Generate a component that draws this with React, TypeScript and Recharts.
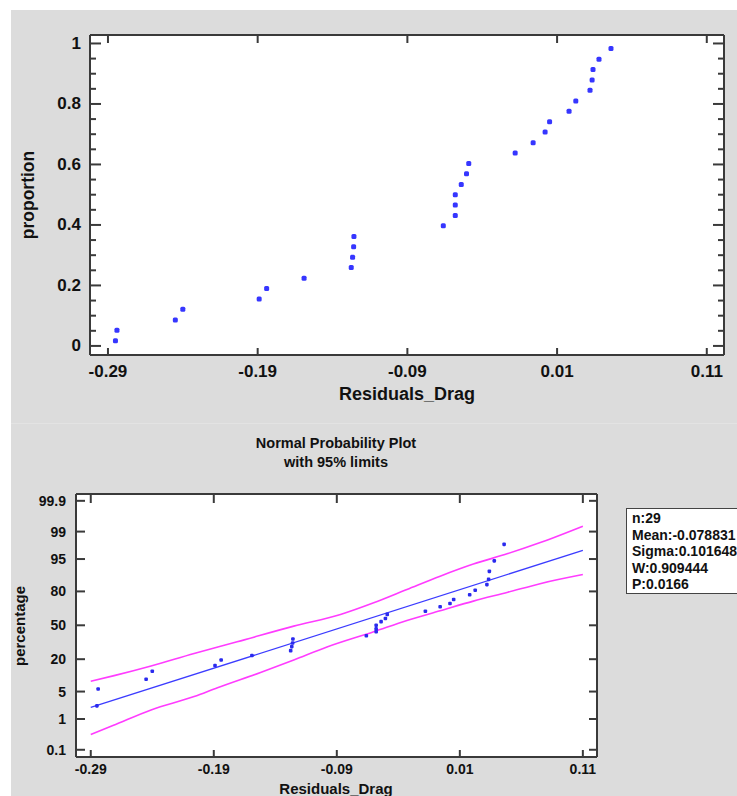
import React from 'react';
import { ComposedChart, Scatter, Line, XAxis, YAxis, CartesianGrid } from 'recharts';

// residuals (same for both panels)
const residuals = [
  -0.285, -0.284, -0.245, -0.24, -0.189, -0.184, -0.159, -0.1275, -0.1266, -0.1259,
  -0.1257, -0.066, -0.058, -0.058, -0.058, -0.054, -0.0505, -0.049, -0.018, -0.006,
  0.002, 0.005, 0.018, 0.0225, 0.032, 0.0334, 0.034, 0.038, 0.046,
];
const proportions = [
  0.017, 0.052, 0.086, 0.121, 0.155, 0.19, 0.224, 0.259, 0.293, 0.328,
  0.362, 0.397, 0.431, 0.466, 0.5, 0.534, 0.569, 0.603, 0.638, 0.672,
  0.707, 0.741, 0.776, 0.81, 0.845, 0.879, 0.914, 0.948, 0.983,
];
// normal scores (probability-axis positions) of the same points
const normalScores = [
  -2.0, -1.58, -1.34, -1.14, -1.0, -0.86, -0.75, -0.63, -0.53, -0.44,
  -0.34, -0.26, -0.16, -0.09, 0.0, 0.09, 0.17, 0.27, 0.35, 0.46,
  0.54, 0.64, 0.76, 0.87, 1.01, 1.14, 1.34, 1.6, 2.01,
];

const fitX = [-0.29, 0.11];
const fitZ = [-2.04, 1.86];

const upperX = [-0.29, -0.271, -0.241, -0.206, -0.171, -0.125, -0.087, -0.06, -0.033, -0.006, 0.021, 0.049, 0.076, 0.11];
const upperZ = [-1.39, -1.25, -1.01, -0.7, -0.41, -0.02, 0.27, 0.56, 0.89, 1.22, 1.52, 1.78, 2.06, 2.46];
const lowerX = [-0.29, -0.272, -0.241, -0.206, -0.187, -0.152, -0.125, -0.098, -0.06, -0.033, -0.006, 0.021, 0.049, 0.076, 0.11];
const lowerZ = [-2.71, -2.49, -2.1, -1.77, -1.55, -1.17, -0.86, -0.54, -0.16, 0.12, 0.36, 0.6, 0.82, 1.04, 1.26];

const xTicks = [-0.29, -0.19, -0.09, 0.01, 0.11];
const propMajor = [0, 0.2, 0.4, 0.6, 0.8, 1];
const propMinor = [0.05, 0.1, 0.15, 0.25, 0.3, 0.35, 0.45, 0.5, 0.55, 0.65, 0.7, 0.75, 0.85, 0.9, 0.95];
const pctTicks = [0.1, 1, 5, 20, 50, 80, 95, 99, 99.9];
const statLines = ['n:29', 'Mean:-0.078831', 'Sigma:0.101648', 'W:0.909444', 'P:0.0166'];

const FONT = '"Liberation Sans", Arial, sans-serif';
const ink = '#111';
const frame = '#3a3a3a';
const xDomain: [number, number] = [-0.302, 0.1215];

// inverse normal cdf, for placing the probability ticks
const probit = (p: number) => {
  const q = p < 0.5 ? p : 1 - p;
  const t = Math.sqrt(-2 * Math.log(q));
  const z = t - (2.515517 + 0.802853 * t + 0.010328 * t * t) / (1 + 1.432788 * t + 0.189269 * t * t + 0.001308 * t * t * t);
  return p < 0.5 ? -z : z;
};

const topData = residuals.map((x, i) => ({ x, y: proportions[i] }));
const probData = residuals.map((x, i) => ({ x, z: normalScores[i] }));
const fitData = fitX.map((x, i) => ({ x, z: fitZ[i] }));
const upperData = upperX.map((x, i) => ({ x, z: upperZ[i] }));
const lowerData = lowerX.map((x, i) => ({ x, z: lowerZ[i] }));
const propTicks = [...propMajor, ...propMinor].sort((a, b) => a - b);
const zTicks = pctTicks.map((p) => probit(p / 100));

const isIn = (list: number[], v: number) => list.some((m) => Math.abs(m - v) < 1e-9);

const leftTick = (gap: number, size: number, long: number, short: number, majors: number[] | null, label: (p: any) => string) => (p: any) => {
  const major = !majors || isIn(majors, p.payload.value);
  const ax = p.x + gap;
  return (
    <g>
      <line x1={ax} x2={ax + (major ? long : short)} y1={p.y} y2={p.y} stroke={frame} strokeWidth={2} />
      {major && (
        <text x={p.x} y={p.y} textAnchor="end" dominantBaseline="central" fontSize={size} fontWeight="bold" fontFamily={FONT} fill={ink}>
          {label(p)}
        </text>
      )}
    </g>
  );
};

const rightTick = (long: number, short: number, majors: number[] | null) => (p: any) => {
  const major = !majors || isIn(majors, p.payload.value);
  return <line x1={p.x} x2={p.x - (major ? long : short)} y1={p.y} y2={p.y} stroke={frame} strokeWidth={2} />;
};

const bottomTick = (gap: number, size: number, len: number) => (p: any) => {
  const ay = p.y - gap;
  return (
    <g>
      <line x1={p.x} x2={p.x} y1={ay} y2={ay - len} stroke={frame} strokeWidth={2} />
      <text x={p.x} y={p.y} dy="0.71em" textAnchor="middle" fontSize={size} fontWeight="bold" fontFamily={FONT} fill={ink}>
        {String(p.payload.value)}
      </text>
    </g>
  );
};

// top axis is 1px tall, so its line sits at p.y + 1
const topTick = (len: number) => (p: any) => (
  <line x1={p.x} x2={p.x} y1={p.y + 1} y2={p.y + 1 + len} stroke={frame} strokeWidth={2} />
);

const Dot = (size: number, color: string) => (p: any) => (
  <rect x={p.cx - size / 2} y={p.cy - size / 2} width={size} height={size} rx={size * 0.3} fill={color} />
);

const Label: React.FC<{ x: number; y: number; size: number; rotate?: boolean; children: React.ReactNode }> = ({ x, y, size, rotate, children }) => (
  <div
    style={{
      position: 'absolute',
      left: x,
      top: y,
      transform: `translate(-50%, -50%)${rotate ? ' rotate(-90deg)' : ''}`,
      fontSize: size,
      fontWeight: 'bold',
      color: ink,
      whiteSpace: 'nowrap',
      lineHeight: 1,
    }}
  >
    {children}
  </div>
);

const axisLine = { stroke: frame, strokeWidth: 2 };

export default function App() {
  return (
    <div style={{ position: 'absolute', left: 0, top: 0, width: 737, height: 796, overflow: 'hidden', background: '#fff', fontFamily: FONT }}>
      <div style={{ position: 'absolute', left: 11, top: 10, width: 726, height: 413, background: '#dcdcdc' }} />
      <div style={{ position: 'absolute', left: 11, top: 423, width: 726, height: 373, background: '#dcdcdc', borderTop: '1px solid #e3e3e3', boxSizing: 'border-box' }} />

      {/* empirical distribution */}
      <div style={{ position: 'absolute', left: 0, top: 0 }}>
        <ComposedChart width={737} height={420} margin={{ top: 34, right: 12, bottom: 20, left: 0 }}>
          <CartesianGrid horizontal={false} vertical={false} fill="#fff" />
          <XAxis xAxisId="b" type="number" dataKey="x" domain={xDomain} ticks={xTicks} interval={0} allowDataOverflow
            height={45} tickSize={0} tickMargin={10} tickLine={false} axisLine={axisLine} tick={bottomTick(10, 17, 7)} />
          <XAxis xAxisId="t" orientation="top" type="number" dataKey="x" domain={xDomain} ticks={xTicks} interval={0} allowDataOverflow
            height={1} tickSize={0} tickMargin={0} tickLine={false} axisLine={axisLine} tick={topTick(7)} />
          <YAxis yAxisId="l" type="number" dataKey="y" domain={[-0.03, 1.028]} ticks={propTicks} interval={0} allowDataOverflow
            width={90} tickSize={0} tickMargin={9} tickLine={false} axisLine={axisLine}
            tick={leftTick(9, 17, 11, 6, propMajor, (p) => String(p.payload.value))} />
          <YAxis yAxisId="r" orientation="right" type="number" dataKey="y" domain={[-0.03, 1.028]} ticks={propTicks} interval={0} allowDataOverflow
            width={1} tickSize={0} tickMargin={0} tickLine={false} axisLine={axisLine} tick={rightTick(11, 6, propMajor)} />
          <Scatter xAxisId="b" yAxisId="l" data={topData} fill="#3636ff" shape={Dot(5, '#3636ff')} isAnimationActive={false} />
        </ComposedChart>
      </div>
      <Label x={407} y={394} size={18}>Residuals_Drag</Label>
      <Label x={29} y={195} size={17.5} rotate>proportion</Label>

      {/* normal probability plot */}
      <div style={{ position: 'absolute', left: 0, top: 423 }}>
        <ComposedChart width={737} height={373} margin={{ top: 70, right: 139, bottom: 10, left: 0 }}>
          <CartesianGrid horizontal={false} vertical={false} fill="#fff" />
          <XAxis xAxisId="b" type="number" dataKey="x" domain={xDomain} ticks={xTicks} interval={0} allowDataOverflow
            height={29} tickSize={0} tickMargin={7} tickLine={false} axisLine={axisLine} tick={bottomTick(7, 14, 7)} />
          <XAxis xAxisId="t" orientation="top" type="number" dataKey="x" domain={xDomain} ticks={xTicks} interval={0} allowDataOverflow
            height={1} tickSize={0} tickMargin={0} tickLine={false} axisLine={axisLine} tick={topTick(8)} />
          <YAxis yAxisId="l" type="number" dataKey="z" domain={[-3.27, 3.26]} ticks={zTicks} interval={0} allowDataOverflow
            width={76} tickSize={0} tickMargin={10} tickLine={false} axisLine={axisLine}
            tick={leftTick(10, 14, 9, 9, null, (p) => String(pctTicks[p.index]))} />
          <YAxis yAxisId="r" orientation="right" type="number" dataKey="z" domain={[-3.27, 3.26]} ticks={zTicks} interval={0} allowDataOverflow
            width={1} tickSize={0} tickMargin={0} tickLine={false} axisLine={axisLine} tick={rightTick(8, 8, null)} />
          <Line xAxisId="b" yAxisId="l" data={upperData} dataKey="z" type="monotone" stroke="#ff3cff" strokeWidth={1.6} dot={false} isAnimationActive={false} />
          <Line xAxisId="b" yAxisId="l" data={lowerData} dataKey="z" type="monotone" stroke="#ff3cff" strokeWidth={1.6} dot={false} isAnimationActive={false} />
          <Line xAxisId="b" yAxisId="l" data={fitData} dataKey="z" type="linear" stroke="#3c3cff" strokeWidth={1.3} dot={false} isAnimationActive={false} />
          <Scatter xAxisId="b" yAxisId="l" data={probData} fill="#2a2aee" shape={Dot(3.6, '#2a2aee')} isAnimationActive={false} />
        </ComposedChart>
      </div>
      <Label x={336} y={443} size={14.5}>Normal Probability Plot</Label>
      <Label x={336} y={462} size={14.5}>with 95% limits</Label>
      <Label x={336} y={788} size={15}>Residuals_Drag</Label>
      <Label x={19} y={626} size={15} rotate>percentage</Label>

      <div
        style={{
          position: 'absolute',
          left: 626,
          top: 508,
          width: 140,
          height: 86,
          boxSizing: 'border-box',
          border: '1px solid #444',
          background: '#fff',
          padding: '1px 0 0 5px',
          fontSize: 14,
          fontWeight: 'bold',
          lineHeight: '16.5px',
          color: ink,
          whiteSpace: 'nowrap',
        }}
      >
        {statLines.map((s) => (
          <div key={s}>{s}</div>
        ))}
      </div>
    </div>
  );
}
